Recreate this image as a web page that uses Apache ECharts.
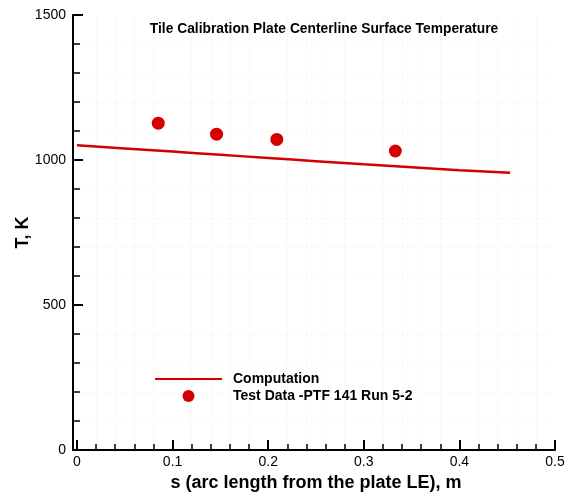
<!DOCTYPE html>
<html>
<head>
<meta charset="utf-8">
<script src="https://cdn.jsdelivr.net/npm/echarts@6/dist/echarts.min.js"></script>
<style>
  html, body { margin: 0; padding: 0; background: #fff; }
  #chart { width: 574px; height: 493px; }
</style>
</head>
<body>
<div id="chart"></div>
<script>
// Computed centerline surface temperature along the plate
const compS = [0, 0.05, 0.1, 0.15, 0.2, 0.25, 0.3, 0.35, 0.4, 0.453];
const compT = [1051, 1040, 1029, 1018, 1007, 996, 985, 975, 965, 956];

// Measured thermocouple values
const testS = [0.085, 0.146, 0.209, 0.333];
const testT = [1127, 1089, 1071, 1031];

const titleText = 'Tile Calibration Plate Centerline Surface Temperature';
const xName = 's (arc length from the plate LE), m';
const yName = 'T, K';
const compName = 'Computation';
const testName = 'Test Data -PTF 141 Run 5-2';

const red = '#d40000';
const font = 'Liberation Sans, Arial, Helvetica, sans-serif';

const chart = echarts.init(document.getElementById('chart'));
chart.setOption({
  animation: false,
  backgroundColor: '#fff',
  textStyle: { fontFamily: font },
  title: {
    text: titleText,
    left: 319, top: 17,
    textAlign: 'center',
    textStyle: { fontSize: 13.8, fontWeight: 'bold', color: '#000', fontFamily: font }
  },
  grid: { left: 77, right: 19, top: 15, bottom: 43, outerBoundsMode: 'none', containLabel: false },
  legend: {
    orient: 'vertical',
    left: 149, top: 367,
    itemWidth: 67, itemHeight: 12, itemGap: 3,
    data: [
      { name: compName, itemStyle: { opacity: 0 } },
      { name: testName }
    ],
    textStyle: { fontSize: 14, fontWeight: 'bold', color: '#000', fontFamily: font, padding: [0, 0, 0, 6] }
  },
  xAxis: {
    type: 'value',
    min: 0, max: 0.5, interval: 0.1,
    name: xName,
    nameLocation: 'middle',
    nameGap: 24,
    nameMoveOverlap: false,
    nameTextStyle: { fontSize: 18, fontWeight: 'bold', color: '#000', fontFamily: font },
    axisLine: { show: true, onZero: false, lineStyle: { color: '#000', width: 2 } },
    axisTick: { show: true, inside: true, length: 10, lineStyle: { color: '#000', width: 2 } },
    minorTick: { show: true, splitNumber: 5, length: 6, lineStyle: { color: '#000', width: 1.5 } },
    axisLabel: { fontSize: 14, color: '#000', margin: 5, fontFamily: font,
      formatter: v => (v === 0 ? '0' : String(+v.toFixed(1))) },
    splitLine: { show: false },
    minorSplitLine: { show: true, lineStyle: { color: '#f3f3f3', type: 'dotted', width: 1 } }
  },
  yAxis: {
    type: 'value',
    min: 0, max: 1500, interval: 500,
    offset: 4,
    name: yName,
    nameLocation: 'middle',
    nameGap: 41,
    nameMoveOverlap: false,
    nameRotate: 90,
    nameTextStyle: { fontSize: 18, fontWeight: 'bold', color: '#000', fontFamily: font },
    axisLine: { show: true, onZero: false, lineStyle: { color: '#000', width: 2 } },
    axisTick: { show: true, inside: true, length: 10, lineStyle: { color: '#000', width: 2 } },
    minorTick: { show: true, splitNumber: 5, length: 7, lineStyle: { color: '#000', width: 1.5 } },
    axisLabel: { fontSize: 14, color: '#000', margin: 7, fontFamily: font, formatter: v => String(v) },
    splitLine: { show: false },
    minorSplitLine: { show: true, lineStyle: { color: '#f3f3f3', type: 'dotted', width: 1 } }
  },
  graphic: [
    // joins the bottom axis line to the offset left axis
    { type: 'line', shape: { x1: 72, y1: 450, x2: 78, y2: 450 }, style: { stroke: '#000', lineWidth: 2 } }
  ],
  series: [
    {
      name: compName,
      type: 'line',
      data: compS.map((s, i) => [s, compT[i]]),
      symbol: 'none',
      smooth: true,
      lineStyle: { color: red, width: 2.5 },
      itemStyle: { color: red }
    },
    {
      name: testName,
      type: 'scatter',
      data: testS.map((s, i) => [s, testT[i]]),
      symbol: 'circle',
      symbolSize: 13,
      itemStyle: { color: red, opacity: 1 }
    }
  ]
});
</script>
</body>
</html>
